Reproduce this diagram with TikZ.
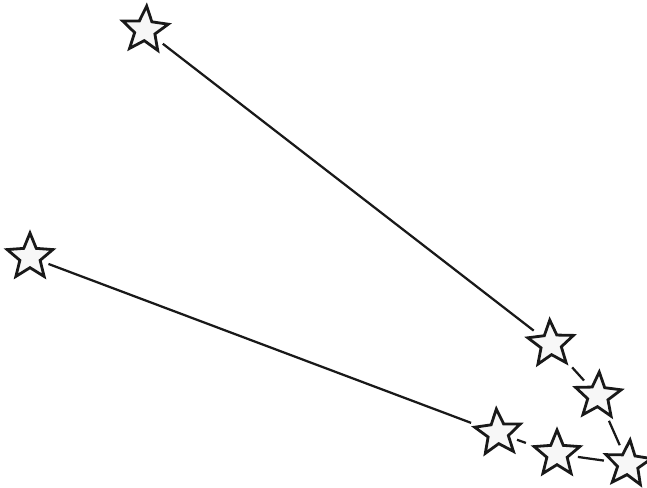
\documentclass[tikz,border=0pt]{standalone}
\usetikzlibrary{shapes.geometric}

\begin{document}
\begin{tikzpicture}[
  starnode/.style={star,star points=5,star point ratio=2.25,minimum size=1.2cm,
    inner sep=0pt,draw=black!90,line width=2pt,fill=gray!6,line join=miter},
  link/.style={line width=1.6pt,black!90,shorten <=5pt,shorten >=5pt}
]
  \useasboundingbox (0,0) rectangle (16.175,12.175);
  \node[starnode,rotate=-4] (ain) at (3.625,11.425) {};
  \node[starnode] (ald) at (0.75,5.75) {};
  \node[starnode,rotate=3] (eps) at (13.775,3.575) {};
  \node[starnode,rotate=-3] (del) at (14.95,2.275) {};
  \node[starnode,rotate=4] (zet) at (12.45,1.35) {};
  \node[starnode] (lam) at (13.925,0.825) {};
  \node[starnode,rotate=-5] (gam) at (15.7,0.575) {};
  \draw[link] (ain) -- (eps);
  \draw[link] (eps) -- (del);
  \draw[link] (del) -- (gam);
  \draw[link] (gam) -- (lam);
  \draw[link] (lam) -- (zet);
  \draw[link] (zet) -- (ald);
\end{tikzpicture}
\end{document}
